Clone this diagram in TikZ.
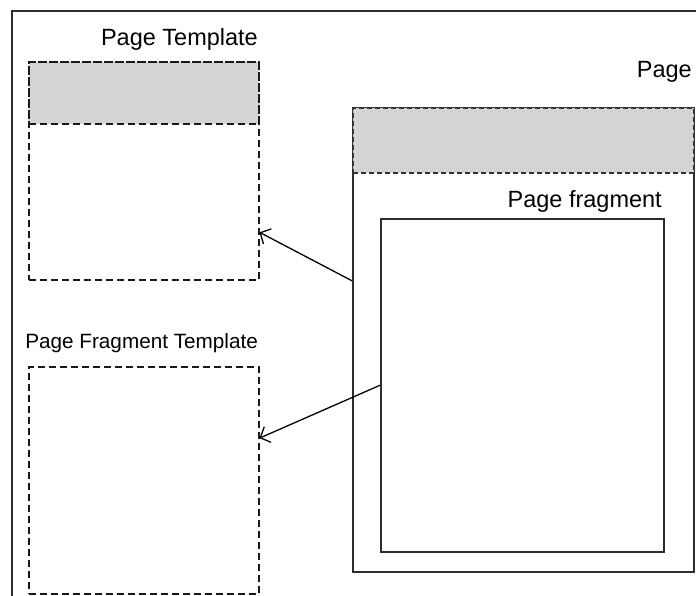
\documentclass[tikz,border=0pt]{standalone}
\usepackage{fontspec}
\setmainfont{Liberation Sans}
\usetikzlibrary{arrows.meta,positioning}
\definecolor{hdrgray}{RGB}{211,212,214}
\definecolor{linegray}{RGB}{45,45,45}

\begin{document}
\begin{tikzpicture}[x=1pt,y=-1pt,
    box/.style={rectangle,draw=linegray,line width=1.5pt,inner sep=0pt,anchor=north west},
    tmpl/.style={box,draw=black!90,dash pattern=on 7pt off 4pt},
    hdr/.style={box,fill=hdrgray,draw=black!80,dash pattern=on 5pt off 3pt},
    lbl/.style={font=\fontsize{23.5}{28}\selectfont,inner sep=0pt,anchor=base east},
    link/.style={-{Straight Barb[length=8pt,width=17pt]},line width=1.3pt}]
    \path[use as bounding box] (0,0) rectangle (696,595);

    % Outer frame (cut off at the right and bottom)
    \node[box,minimum width=720pt,minimum height=620pt] (frame) at (11,10) {};

    % Page Template
    \node[lbl] (ptlabel) at (258,45) {Page Template};
    \node[hdr,draw=black!90,dash pattern=on 7pt off 4pt,minimum width=230pt,minimum height=62pt] (pthead) at (28,61) {};
    \node[tmpl,minimum width=230pt,minimum height=218pt] (ptmpl) at (28,61) {};

    % Page Fragment Template
    \node[lbl,font=\fontsize{20.7}{25}\selectfont] (ftlabel) at (258,348) {Page Fragment Template};
    \node[tmpl,minimum width=230pt,minimum height=227pt] (ftmpl) at (28,366) {};

    % Page
    \node[lbl] (pglabel) at (692,77) {Page};
    \node[box,minimum width=341pt,minimum height=464pt] (page) at (352,107) {};
    \node[hdr,minimum width=341pt,minimum height=65pt] (pghead) at (352,107) {};

    % Page fragment
    \node[lbl] (frlabel) at (662,207) {Page fragment};
    \node[box,minimum width=283pt,minimum height=333pt] (frag) at (380,218) {};

    % Arrows
    \draw[link] (page.161.5) -- (ptmpl.-28.3);
    \draw[link] (frag.west) -- (ftmpl.20.3);
\end{tikzpicture}
\end{document}
